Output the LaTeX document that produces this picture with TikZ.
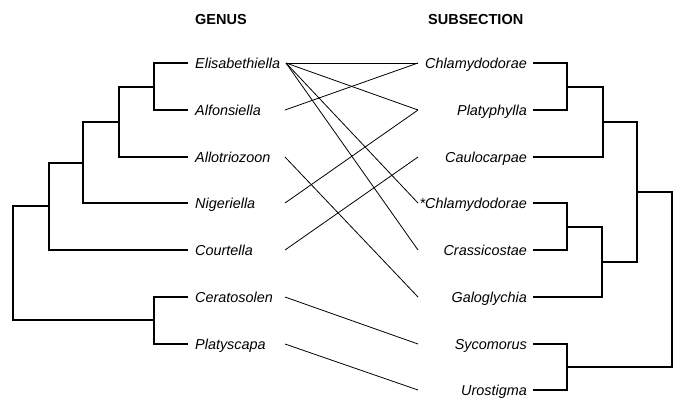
\documentclass[tikz,border=0pt]{standalone}
\usepackage{fontspec}
\setmainfont{Liberation Sans}
\begin{document}
\begin{tikzpicture}[x=1bp,y=-1bp,
  tree/.style={line width=1.8bp,line join=miter},
  link/.style={line width=0.8bp},
  ltaxon/.style={anchor=base west,inner sep=0pt,font=\fontsize{14.4bp}{17bp}\selectfont\itshape},
  rtaxon/.style={anchor=base east,inner sep=0pt,font=\fontsize{14.4bp}{17bp}\selectfont\itshape},
  header/.style={anchor=base west,inner sep=0pt,font=\fontsize{14.5bp}{17bp}\selectfont\bfseries}]
\useasboundingbox (0,0) rectangle (685,406);
% headers
\node[header] (hG) at (195,24) {GENUS};
\node[header] (hS) at (428,24) {SUBSECTION};
% left labels
\node[ltaxon] (lE)  at (195,68.2)  {Elisabethiella};
\node[ltaxon] (lA)  at (195,115.2) {Alfonsiella};
\node[ltaxon] (lAl) at (195,162.2) {Allotriozoon};
\node[ltaxon] (lN)  at (195,208.2) {Nigeriella};
\node[ltaxon] (lC)  at (195,255.2) {Courtella};
\node[ltaxon] (lCe) at (195,302.2) {Ceratosolen};
\node[ltaxon] (lP)  at (195,349.2) {Platyscapa};
% right labels
\node[rtaxon] (rCh) at (527,68.2)  {Chlamydodorae};
\node[rtaxon] (rPl) at (527,115.2) {Platyphylla};
\node[rtaxon] (rCa) at (527,162.2) {Caulocarpae};
\node[rtaxon] (rSC) at (527,208.2) {*Chlamydodorae};
\node[rtaxon] (rCr) at (527,255.2) {Crassicostae};
\node[rtaxon] (rGa) at (527,302.2) {Galoglychia};
\node[rtaxon] (rSy) at (527,349.2) {Sycomorus};
\node[rtaxon] (rUr) at (527,395.2) {Urostigma};
% left tips
\coordinate (tE)  at (188,63);
\coordinate (tA)  at (188,110);
\coordinate (tAl) at (188,157);
\coordinate (tN)  at (188,203);
\coordinate (tC)  at (188,250);
\coordinate (tCe) at (188,297);
\coordinate (tP)  at (188,344);
% left internal nodes
\coordinate (n1) at (154,87);
\coordinate (n2) at (119,122);
\coordinate (n3) at (83,163);
\coordinate (n4) at (49,206);
\coordinate (n5) at (154,320);
\coordinate (n0) at (13,263);
\draw[tree] (tE) -| (n1) |- (tA);
\draw[tree] (n1) -| (n2) |- (tAl);
\draw[tree] (n2) -| (n3) |- (tN);
\draw[tree] (n3) -| (n4) |- (tC);
\draw[tree] (tCe) -| (n5) |- (tP);
\draw[tree] (n4) -| (n0) |- (n5);
% right tips
\coordinate (uCh) at (533,63);
\coordinate (uPl) at (533,110);
\coordinate (uCa) at (533,157);
\coordinate (uSC) at (533,203);
\coordinate (uCr) at (533,250);
\coordinate (uGa) at (533,297);
\coordinate (uSy) at (533,344);
\coordinate (uUr) at (533,390);
% right internal nodes
\coordinate (m1) at (567,87);
\coordinate (m2) at (603,122);
\coordinate (m3) at (567,227);
\coordinate (m4) at (602,262);
\coordinate (m5) at (637,192);
\coordinate (m6) at (567,367);
\coordinate (m0) at (672,280);
\draw[tree] (uCh) -| (m1) |- (uPl);
\draw[tree] (m1) -| (m2) |- (uCa);
\draw[tree] (uSC) -| (m3) |- (uCr);
\draw[tree] (m3) -| (m4) |- (uGa);
\draw[tree] (m2) -| (m5) |- (m4);
\draw[tree] (uSy) -| (m6) |- (uUr);
\draw[tree] (m5) -| (m0) |- (m6);
% connector ends
\coordinate (cE)  at (286,63);
\coordinate (cA)  at (285,110);
\coordinate (cAl) at (285,157);
\coordinate (cN)  at (285,203);
\coordinate (cC)  at (285,250);
\coordinate (cCe) at (285,297);
\coordinate (cP)  at (285,344);
\coordinate (dCh) at (418,63);
\coordinate (dPl) at (418,110);
\coordinate (dCa) at (418,157);
\coordinate (dSC) at (418,203);
\coordinate (dCr) at (418,250);
\coordinate (dGa) at (418,297);
\coordinate (dSy) at (418,344);
\coordinate (dUr) at (418,390);
\draw[link] (cE) -- (dCh);
\draw[link] (cE) -- (dPl);
\draw[link] (cE) -- (dSC);
\draw[link] (cE) -- (dCr);
\draw[link] (cA) -- (dCh);
\draw[link] (cAl) -- (dGa);
\draw[link] (cN) -- (dPl);
\draw[link] (cC) -- (dCa);
\draw[link] (cCe) -- (dSy);
\draw[link] (cP) -- (dUr);
\end{tikzpicture}
\end{document}
